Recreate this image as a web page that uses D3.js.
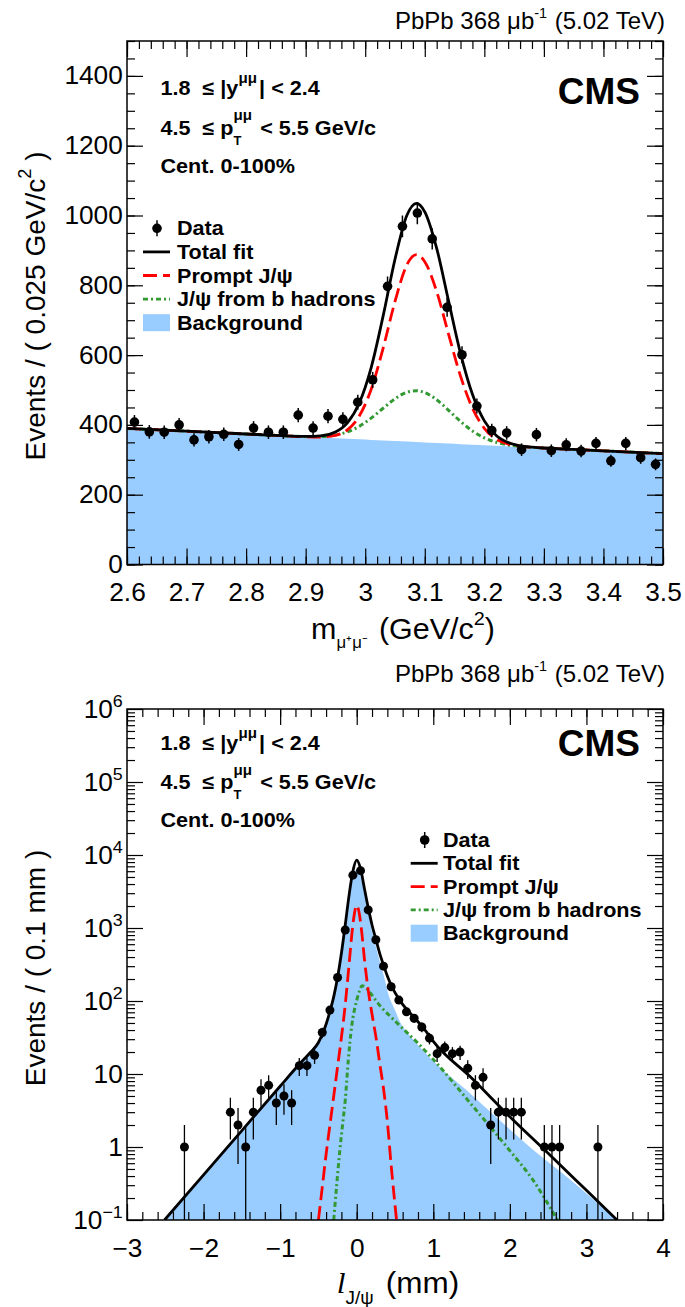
<!DOCTYPE html>
<html><head><meta charset="utf-8">
<script src="https://cdn.jsdelivr.net/npm/d3@7"></script>
<style>body{margin:0;background:#fff}svg{display:block}text{white-space:pre}</style>
</head><body>
<svg id="c" width="685" height="1307"></svg>
<script>
// ================= DATA : invariant mass panel =================
const massBinCenters = [2.6125,2.6375,2.6625,2.6875,2.7125,2.7375,2.7625,2.7875,2.8125,2.8375,2.8625,2.8875,2.9125,2.9375,2.9625,2.9875,3.0125,3.0375,3.0625,3.0875,3.1125,3.1375,3.1625,3.1875,3.2125,3.2375,3.2625,3.2875,3.3125,3.3375,3.3625,3.3875,3.4125,3.4375,3.4625,3.4875];
const massCounts = [408,380,379,400,357,366,373,344,391,379,379,428,391,425,416,465,529,797,969,1007,933,737,601,454,384,377,329,372,326,343,325,347,297,347,306,287];
// fit components (sample points)
const massCurveX   = [2.6,2.7,2.8,2.85,2.875,2.9,2.925,2.95,2.97,2.99,3.01,3.03,3.05,3.07,3.086,3.10,3.12,3.14,3.16,3.18,3.20,3.22,3.24,3.26,3.28,3.30,3.35,3.4,3.5];
const massBkg      = [390,381.9,373.9,369.9,367.8,365.8,363.8,361.8,360.2,358.6,357.0,355.4,353.7,352.1,350.8,349.7,348.1,346.5,344.9,343.3,341.7,340.1,338.4,336.8,335.2,333.6,329.6,325.6,317.5];
const massPrompt   = [0,0,0,0,0,0.2,1.5,8.2,25.5,66.7,145,264,400,507,537,518,434,313,195,105,48.6,19.4,6.7,2.0,0.5,0.1,0,0,0];
const massNonPrompt= [0,0,0,0,0.2,0.9,3.1,9.4,19.9,37.3,62.3,92.2,121,141.5,147,142.8,123.8,95.3,65.1,39.5,21.3,10.2,4.3,1.6,0.5,0.15,0,0,0];
const massTicks = [2.6,2.7,2.8,2.9,3.0,3.1,3.2,3.3,3.4,3.5];
const massTickLabels = ['2.6','2.7','2.8','2.9','3','3.1','3.2','3.3','3.4','3.5'];
const countTicks = [0,200,400,600,800,1000,1200,1400];

// ================= DATA : pseudo-proper decay length panel =================
const lifeBinCenters = [-2.25,-1.65,-1.55,-1.45,-1.35,-1.25,-1.15,-1.05,-0.95,-0.85,-0.75,-0.65,-0.55,-0.45,-0.35,-0.25,-0.15,-0.05,0.05,0.15,0.25,0.35,0.45,0.55,0.65,0.75,0.85,0.95,1.05,1.15,1.25,1.35,1.45,1.55,1.65,1.75,1.85,1.95,2.05,2.15,2.45,2.55,2.65,3.15];
const lifeCounts = [1,3,2,1,3,6,7,4,5,4,13,13,18,37,75,210,940,5300,6100,1770,690,300,157,103,71,58,44,31,19,23,19,20,12,7,9,2,3,3,3,3,1,1,1,1];
const lifeTotalX = [-2.51,-2.0,-1.5,-1.0,-0.75,-0.6,-0.5,-0.45,-0.4,-0.35,-0.3,-0.25,-0.2,-0.15,-0.1,-0.05,0,0.05,0.1,0.15,0.2,0.25,0.3,0.35,0.4,0.45,0.5,0.6,0.7,0.8,0.9,1.0,1.5,2.0,2.5,3.0,3.4];
const lifeTotalY = [0.1,0.416,1.68,6.8,13.6,20,27,35,48,72,115,210,450,1100,2800,6000,8530,6500,3500,1900,1100,700,450,310,220,165,130,90,68,52,39,28,8.8,2.6,0.82,0.255,0.1];
const lifeBkgX = [-2.51,-2.0,-1.5,-1.0,-0.75,-0.6,-0.5,-0.45,-0.4,-0.35,-0.3,-0.25,-0.2,-0.15,-0.1,-0.05,0,0.05,0.1,0.15,0.2,0.25,0.3,0.35,0.41,0.5,0.565,0.7,0.8,1.0,1.436,1.871,2.306,2.742,3.047,3.4];
const lifeBkgY = [0.1,0.416,1.68,6.8,13.6,20,27,35,47,70,108,196,420,1000,2460,4900,6400,5100,2960,1600,900,560,350,230,127,75,52,33,25,15,6,2.3,0.91,0.39,0.21,0.1];
const lifePromptX = [-0.5,-0.45,-0.4,-0.35,-0.3,-0.25,-0.2,-0.15,-0.1,-0.06,-0.03,0,0.03,0.065,0.1,0.15,0.2,0.26,0.3,0.35,0.4,0.45,0.52];
const lifePromptY = [0.1,0.28,0.79,2.0,5.0,12.6,31.6,89,316,891,1585,2042,1660,891,380,141,66,28,14.1,6.3,2.24,0.56,0.1];
const lifeNonPromptX = [-0.30,-0.26,-0.22,-0.18,-0.15,-0.11,-0.066,0,0.04,0.07,0.1,0.2,0.3,0.45,0.565,0.8,1.0,1.5,2.0,2.3,2.62];
const lifeNonPromptY = [0.1,0.316,0.91,2.24,4.37,15.5,44.7,102,141,162,158,120,87,60,45.7,26.3,15.8,3.8,0.89,0.355,0.1];
const lifeTicks = [-3,-2,-1,0,1,2,3,4];
const lifeTickLabels = ['\u22123','\u22122','\u22121','0','1','2','3','4'];
const logTicks = [0.1,1,10,100,1e3,1e4,1e5,1e6];
const logTickBase = ['10','1','10','10','10','10','10','10'];
const logTickExp  = ['\u22121','','','2','3','4','5','6'];

// ================= STYLE =================
const FONT = "'Liberation Sans', Arial, Helvetica, sans-serif";
const BLUE = '#99ccff', RED = '#ff0000', GREEN = '#339933';
const T = {l:127, r:663, t:41, b:564.5};
const B = {l:127, r:663, t:709, b:1220};
const BOLD = 20, BOLD_SX = 1.08, TICK = 25;

const svg = d3.select('#c');
const defs = svg.append('defs');
[['clipT',T],['clipB',B]].forEach(([id,F])=>{
  defs.append('clipPath').attr('id',id).append('rect')
    .attr('x',F.l).attr('y',F.t).attr('width',F.r-F.l).attr('height',F.b-F.t);
});

// rich text helper: parts = [{t, sub, sup, italic, family, gap}]
function rich(parent, x, y, parts, o){
  const size=o.size, g=parent.append('g'), inner=g.append('g');
  let cx=0;
  const mkText=(xx,yy,fs,txt,extra)=>{
    const t=inner.append('text').attr('x',xx).attr('y',yy)
      .attr('xml:space','preserve').style('white-space','pre')
      .attr('font-family',(extra&&extra.family)||FONT).attr('font-size',fs)
      .attr('font-weight',(extra&&extra.weight)||o.weight||'normal')
      .attr('font-style',(extra&&extra.italic)?'italic':'normal')
      .attr('fill','#000').text(txt);
    return t.node().getComputedTextLength();
  };
  parts.forEach(p=>{
    if(p.t) cx+=mkText(cx,0,size*(p.scale||1),p.t,p);
    let w2=0;
    if(p.sub) w2=Math.max(w2,mkText(cx,size*(o.subDy||0.45),size*(o.subScale||0.65),p.sub));
    if(p.sup) w2=Math.max(w2,mkText(cx,-size*(o.supDy||0.55),size*(o.supScale||0.65),p.sup));
    cx+=w2+(p.gap||0);
  });
  const shift=o.anchor==='end'?-cx:o.anchor==='middle'?-cx/2:0;
  inner.attr('transform',`translate(${shift},0)`);
  g.attr('transform',`translate(${x},${y}) scale(${o.sx||1},1) rotate(${o.rotate||0})`);
  return g;
}

function axes(F, x, y, xMaj, xMin, yMaj, yMin){
  const g=svg.append('g');
  const mk=(fn,sc,vals,size,tr)=>{
    const a=fn(sc).tickValues(vals).tickSize(size).tickFormat('');
    const gg=g.append('g').attr('transform',tr).call(a);
    gg.select('.domain').remove();
    gg.selectAll('line').attr('stroke','#000').attr('stroke-width',1.2);
  };
  mk(d3.axisBottom,x,xMaj,-16,`translate(0,${F.b})`);
  mk(d3.axisBottom,x,xMin,-8,`translate(0,${F.b})`);
  mk(d3.axisTop,x,xMaj,-16,`translate(0,${F.t})`);
  mk(d3.axisTop,x,xMin,-8,`translate(0,${F.t})`);
  mk(d3.axisLeft,y,yMaj,-16,`translate(${F.l},0)`);
  mk(d3.axisLeft,y,yMin,-8,`translate(${F.l},0)`);
  mk(d3.axisRight,y,yMaj,-16,`translate(${F.r},0)`);
  mk(d3.axisRight,y,yMin,-8,`translate(${F.r},0)`);
  g.append('rect').attr('x',F.l).attr('y',F.t).attr('width',F.r-F.l).attr('height',F.b-F.t)
    .attr('fill','none').attr('stroke','#000').attr('stroke-width',1.5);
}

function legend(x0, y0, step, textX){
  const g=svg.append('g');
  const items=['Data','Total fit','Prompt J/\u03c8','J/\u03c8 from b hadrons','Background'];
  items.forEach((s,i)=>{
    const yy=y0+i*step;
    if(i===0){
      g.append('line').attr('x1',x0+14).attr('x2',x0+14).attr('y1',yy-8).attr('y2',yy+8).attr('stroke','#000').attr('stroke-width',1.5);
      g.append('circle').attr('cx',x0+14).attr('cy',yy).attr('r',4.8).attr('fill','#000');
    } else if(i===4){
      g.append('rect').attr('x',x0).attr('y',yy-8.5).attr('width',27).attr('height',17).attr('fill',BLUE);
    } else {
      const st=[null,{c:'#000',d:null},{c:RED,d:'14,6'},{c:GREEN,d:'5,3,2,3'}][i];
      g.append('line').attr('x1',x0).attr('x2',x0+27).attr('y1',yy).attr('y2',yy)
        .attr('stroke',st.c).attr('stroke-width',2.8).attr('stroke-dasharray',st.d);
    }
    rich(g,textX,yy+7,[{t:s}],{size:BOLD,weight:'bold',sx:BOLD_SX});
  });
}

function cuts(y1,y2,y3){
  rich(svg,160.5,y1,[{t:'1.8  \u2264 |y',sup:'\u03bc\u03bc',gap:2},{t:'| < 2.4'}],{size:BOLD,weight:'bold',sx:BOLD_SX,supDy:0.62,supScale:0.7});
  rich(svg,160.5,y2,[{t:'4.5  \u2264 p',sub:'T',sup:'\u03bc\u03bc',gap:2},{t:' < 5.5 GeV/c'}],{size:BOLD,weight:'bold',sx:BOLD_SX,supDy:0.72,supScale:0.7,subDy:0.5,subScale:0.6});
  rich(svg,160.5,y3,[{t:'Cent. 0-100%'}],{size:BOLD,weight:'bold',sx:BOLD_SX});
}
const header=y=>rich(svg,665,y,[{t:'PbPb 368 \u03bcb',sup:'-1',gap:1},{t:' (5.02 TeV)'}],{size:24,anchor:'end',supDy:0.45,supScale:0.6});

// ================= TOP PANEL =================
const xM=d3.scaleLinear().domain([2.6,3.5]).range([T.l,T.r]);
const yM=d3.scaleLinear().domain([0,1500]).range([T.b,T.t]);
const massCurve=massCurveX.map((x,i)=>({x,b:massBkg[i],p:massPrompt[i],n:massNonPrompt[i]}));
const gT=svg.append('g').attr('clip-path','url(#clipT)');
gT.append('path').datum(massCurve)
  .attr('d',d3.area().x(d=>xM(d.x)).y0(yM(0)).y1(d=>yM(d.b)).curve(d3.curveMonotoneX))
  .attr('fill',BLUE);
const lineM=f=>d3.line().x(d=>xM(d.x)).y(d=>yM(f(d))).curve(d3.curveMonotoneX);
gT.append('path').datum(massCurve).attr('d',lineM(d=>d.b+d.n)).attr('fill','none')
  .attr('stroke',GREEN).attr('stroke-width',3).attr('stroke-dasharray','5,3,2,3');
gT.append('path').datum(massCurve).attr('d',lineM(d=>d.b+d.p)).attr('fill','none')
  .attr('stroke',RED).attr('stroke-width',2.8).attr('stroke-dasharray','14,6');
gT.append('path').datum(massCurve).attr('d',lineM(d=>d.b+d.p+d.n)).attr('fill','none')
  .attr('stroke','#000').attr('stroke-width',2.8);
const massData=massBinCenters.map((x,i)=>({x,v:massCounts[i]}));
gT.append('g').selectAll('line').data(massData).join('line')
  .attr('x1',d=>xM(d.x)).attr('x2',d=>xM(d.x))
  .attr('y1',d=>yM(d.v+Math.sqrt(d.v))).attr('y2',d=>yM(d.v-Math.sqrt(d.v)))
  .attr('stroke','#000').attr('stroke-width',1.5);
gT.append('g').selectAll('circle').data(massData).join('circle')
  .attr('cx',d=>xM(d.x)).attr('cy',d=>yM(d.v)).attr('r',4.8).attr('fill','#000');

axes(T,xM,yM,massTicks,d3.range(2.6,3.5001,0.02),countTicks,d3.range(0,1501,50));
const lx=svg.append('g').attr('transform',`translate(0,${T.b})`)
  .call(d3.axisBottom(xM).tickValues(massTicks).tickFormat((d,i)=>massTickLabels[i]).tickSize(0).tickPadding(19));
lx.select('.domain').remove();
lx.selectAll('text').attr('font-family',FONT).attr('font-size',TICK).attr('fill','#000').attr('transform','scale(1.05,1)');
const ly=svg.append('g').attr('transform',`translate(${T.l},0)`)
  .call(d3.axisLeft(yM).tickValues(countTicks).tickFormat(d3.format('d')).tickSize(0).tickPadding(4));
ly.select('.domain').remove();
ly.selectAll('text').attr('font-family',FONT).attr('font-size',TICK).attr('fill','#000').attr('transform','scale(1.05,1)');

header(28.5);
cuts(95,134.7,173.4);
rich(svg,640,104,[{t:'CMS'}],{size:37,weight:'bold',anchor:'end'});
legend(143,228.3,23.6,177);
rich(svg,403,639,[{t:'m',sub:'\u03bc\u207a\u03bc\u207b',gap:4},{t:' (GeV/c',sup:'2'},{t:')'}],{size:29,anchor:'middle',sx:1.05,subDy:0.32,subScale:0.55,supDy:0.5,supScale:0.65});
rich(svg,45,306,[{t:'Events / ( 0.025 GeV/c',sup:'2'},{t:' )'}],{size:28,anchor:'middle',rotate:-90,supDy:0.5,supScale:0.65});

// ================= BOTTOM PANEL =================
const xL=d3.scaleLinear().domain([-3,4]).range([B.l,B.r]);
const yL=d3.scaleLog().domain([0.1,1e6]).range([B.b,B.t]);
const zip=(X,Y)=>X.map((x,i)=>({x,v:Y[i]}));
const gB=svg.append('g').attr('clip-path','url(#clipB)');
gB.append('path').datum(zip(lifeBkgX,lifeBkgY))
  .attr('d',d3.area().x(d=>xL(d.x)).y0(yL(0.1)).y1(d=>yL(d.v)).curve(d3.curveMonotoneX))
  .attr('fill',BLUE);
const lineL=d3.line().x(d=>xL(d.x)).y(d=>yL(d.v)).curve(d3.curveMonotoneX);
gB.append('path').datum(zip(lifeNonPromptX,lifeNonPromptY)).attr('d',lineL).attr('fill','none')
  .attr('stroke',GREEN).attr('stroke-width',3).attr('stroke-dasharray','5,3,2,3');
gB.append('path').datum(zip(lifePromptX,lifePromptY)).attr('d',lineL).attr('fill','none')
  .attr('stroke',RED).attr('stroke-width',2.8).attr('stroke-dasharray','14,6');
gB.append('path').datum(zip(lifeTotalX,lifeTotalY)).attr('d',lineL).attr('fill','none')
  .attr('stroke','#000').attr('stroke-width',2.8);
const lifeData=zip(lifeBinCenters,lifeCounts);
gB.append('g').selectAll('line').data(lifeData).join('line')
  .attr('x1',d=>xL(d.x)).attr('x2',d=>xL(d.x))
  .attr('y1',d=>yL(d.v+Math.sqrt(d.v))).attr('y2',d=>yL(Math.max(d.v-Math.sqrt(d.v),0.01)))
  .attr('stroke','#000').attr('stroke-width',1.3);
gB.append('g').selectAll('circle').data(lifeData).join('circle')
  .attr('cx',d=>xL(d.x)).attr('cy',d=>yL(d.v)).attr('r',4.5).attr('fill','#000');

const logMinor=[];
[0.1,1,10,100,1e3,1e4,1e5].forEach(b=>{for(let k=2;k<=9;k++)logMinor.push(b*k);});
axes(B,xL,yL,lifeTicks,d3.range(-3,4.001,0.2),logTicks,logMinor);
const bx=svg.append('g').attr('transform',`translate(0,${B.b})`)
  .call(d3.axisBottom(xL).tickValues(lifeTicks).tickFormat((d,i)=>lifeTickLabels[i]).tickSize(0).tickPadding(19));
bx.select('.domain').remove();
bx.selectAll('text').attr('font-family',FONT).attr('font-size',TICK).attr('fill','#000').attr('transform','scale(1.05,1)');
const by=svg.append('g').attr('transform',`translate(${B.l},0)`)
  .call(d3.axisLeft(yL).tickValues(logTicks).tickFormat('').tickSize(0).tickPadding(4));
by.select('.domain').remove();
by.selectAll('text').each(function(d,i){
  const t=d3.select(this).attr('font-family',FONT).attr('font-size',TICK).attr('fill','#000').attr('transform','scale(1.05,1)');
  t.append('tspan').text(logTickBase[i]);
  if(logTickExp[i]) t.append('tspan').attr('font-size',17).attr('dy','-0.6em').text(logTickExp[i]);
});

header(682);
cuts(750,789,827);
rich(svg,640,756,[{t:'CMS'}],{size:37,weight:'bold',anchor:'end'});
legend(410.7,840,23.3,443);
rich(svg,398,1293,[{t:'l',italic:true,family:"'Liberation Serif', serif",sub:'J/\u03c8',gap:3},{t:' (mm)'}],{size:30,anchor:'middle',sx:1.05,subDy:0.38,subScale:0.6});
rich(svg,45,968,[{t:'Events / ( 0.1 mm )'}],{size:28,anchor:'middle',rotate:-90});
</script>
</body></html>
